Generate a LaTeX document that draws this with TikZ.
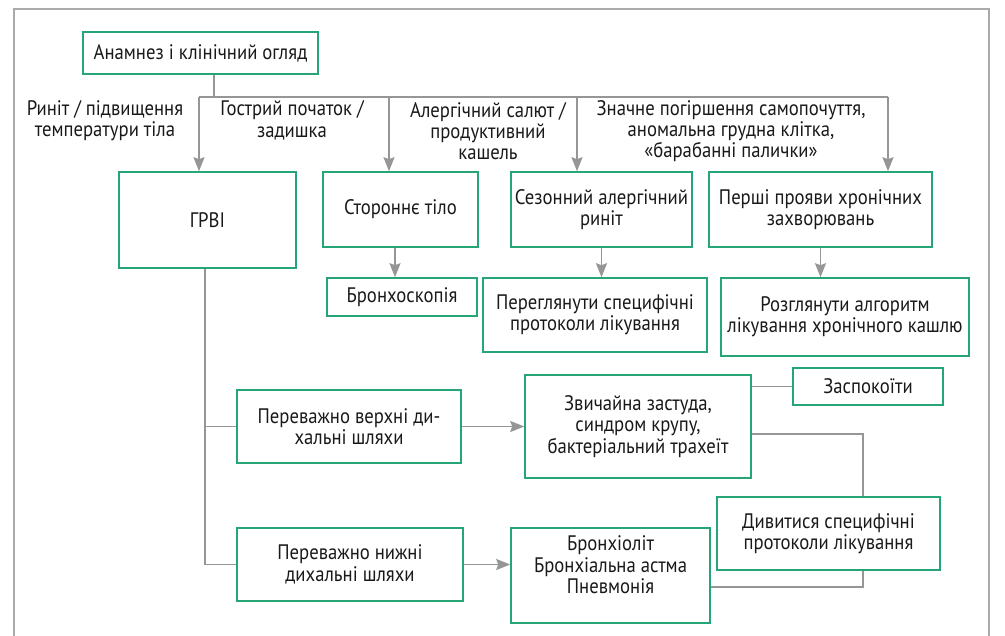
\documentclass[tikz,border=0pt]{standalone}
\usepackage{fontspec}
\setmainfont{PT Sans}[FakeStretch=0.89]
\usetikzlibrary{positioning,arrows.meta,calc}
\definecolor{boxgreen}{RGB}{36,166,118}
\definecolor{linegray}{RGB}{150,150,150}
\definecolor{framegray}{RGB}{170,170,170}
\definecolor{inkgray}{RGB}{25,25,25}
\tikzset{
  stepbox/.style={rectangle,draw=boxgreen,line width=1.6pt,align=center,text=inkgray,inner sep=2pt},
  cond/.style={align=center,text=inkgray,inner sep=0pt},
  link/.style={draw=linegray,line width=1.5pt},
  arrow/.style={link,-{Stealth[length=14pt,width=11pt,inset=2pt]}}
}

\begin{document}
\begin{tikzpicture}[x=1pt,y=-1pt,font=\fontsize{21}{21.3}\selectfont]
  \useasboundingbox (0,0) rectangle (1005,636);
  \draw[framegray,line width=1.5pt] (14,636) -- (14,9) -- (989,9) -- (989,636);

  \node[stepbox,minimum width=235pt,minimum height=42pt] (anam) at (200.5,53) {Анамнез і клінічний огляд};

  % conditions
  \node[cond] (c1) at (105,120.5) {Риніт / підвищення\\температури тіла};
  \node[cond] (c2) at (292,120.5) {Гострий початок /\\задишка};
  \node[cond] (c3) at (488,131) {Алергічний салют /\\продуктивний\\кашель};
  \node[cond] (c4) at (731,131) {Значне погіршення самопочуття,\\аномальна грудна клітка,\\«барабанні палички»};

  \node[stepbox,minimum width=177pt,minimum height=96pt] (grvi) at (207.5,220) {ГРВІ};
  \node[stepbox,minimum width=155pt,minimum height=75pt] (foreign) at (400.5,209.5) {Стороннє тіло};
  \node[stepbox,minimum width=181pt,minimum height=75pt] (season) at (601.5,209.5) {Сезонний алергічний\\риніт};
  \node[stepbox,minimum width=223pt,minimum height=75pt] (chronic) at (820.5,209.5) {Перші прояви хронічних\\захворювань};

  \node[stepbox,minimum width=150pt,minimum height=38pt] (bronch) at (402,297) {Бронхоскопія};
  \node[stepbox,minimum width=224pt,minimum height=74pt] (review) at (595,315) {Переглянути специфічні\\протоколи лікування};
  \node[stepbox,minimum width=248pt,minimum height=78pt] (algo) at (845,317) {Розглянути алгоритм\\лікування хронічного кашлю};

  \node[stepbox,minimum width=224pt,minimum height=73pt] (upper) at (349,426.5) {Переважно верхні ди-\\хальні шляхи};
  \node[stepbox,minimum width=226pt,minimum height=103pt] (cold) at (638,426.5) {Звичайна застуда,\\синдром крупу,\\бактеріальний трахеїт};
  \node[stepbox,minimum width=150pt,minimum height=37pt] (calm) at (868,386.5) {Заспокоїти};
  \node[stepbox,minimum width=223pt,minimum height=73pt] (protocols) at (828.5,533.5) {Дивитися специфічні\\протоколи лікування};
  \node[stepbox,minimum width=226pt,minimum height=73pt] (lower) at (350,564.5) {Переважно нижні\\дихальні шляхи};
  \node[stepbox,minimum width=199pt,minimum height=95pt] (bronchiolitis) at (610.5,575.5) {Бронхіоліт\\Бронхіальна астма\\Пневмонія\\\mbox{}};

  % branching from the first box
  \coordinate (split) at (214,97);
  \coordinate (b1) at (199,97);
  \coordinate (b2) at (389,97);
  \coordinate (b3) at (577,97);
  \coordinate (b4) at (888,97);
  \draw[link] (anam.south -| split) -- (split);
  \draw[link] (b1) -- (b4);
  \draw[arrow] (b1) -- (b1 |- grvi.north);
  \draw[arrow] (b2) -- (b2 |- foreign.north);
  \draw[arrow] (b3) -- (b3 |- season.north);
  \draw[arrow] (b4) -- (b4 |- chronic.north);

  \draw[arrow] ([xshift=-5.5pt]foreign.south) -- ([xshift=-5.5pt]foreign.south |- bronch.north);
  \draw[arrow] (season.south) -- (season.south |- review.north);
  \draw[arrow] (chronic.south) -- (chronic.south |- algo.north);

  % ГРВІ branches
  \draw[link] ([xshift=-2.5pt]grvi.south) -- ([xshift=-2.5pt]grvi.south |- lower.west) -- (lower.west);
  \draw[link] ([xshift=-2.5pt]grvi.south |- upper.west) -- (upper.west);
  \draw[arrow] (upper.east) -- (cold.west);
  \draw[arrow] (lower.east) -- (lower.east -| bronchiolitis.west);

  \draw[link] (calm.west -| cold.east) -- (calm.west);
  \draw[link] ([yshift=-7.5pt]cold.east) -| ([xshift=34.5pt]protocols.north);
  \draw[link] ([xshift=34.5pt]protocols.south) |- ([yshift=-11.5pt]bronchiolitis.east);
\end{tikzpicture}
\end{document}
